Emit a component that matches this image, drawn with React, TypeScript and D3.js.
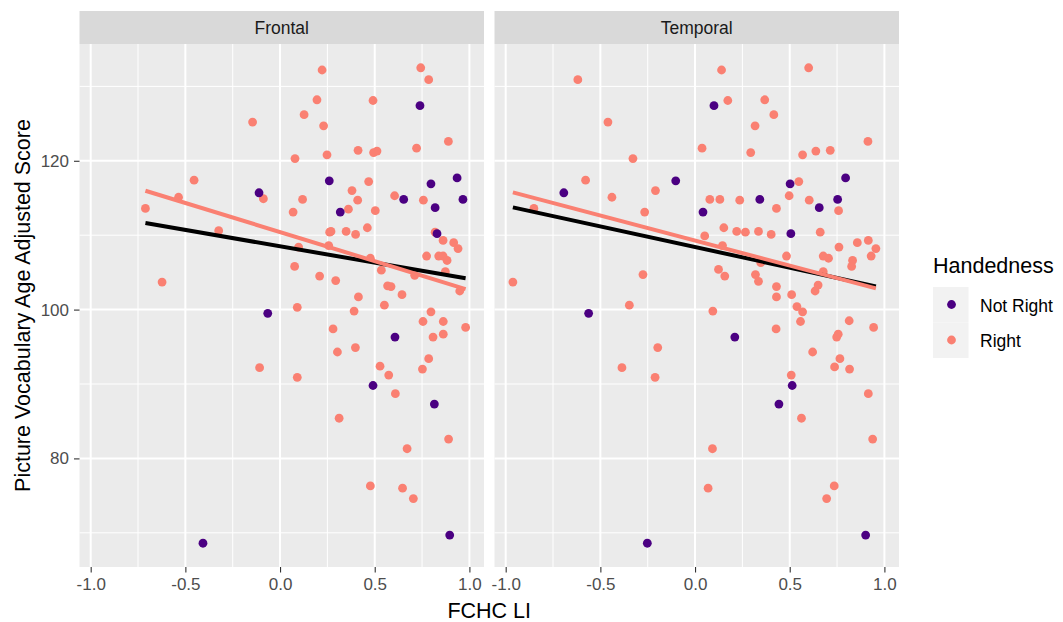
import React, { useEffect, useRef } from "react";
import * as d3 from "d3";

// facets and groups
const facets = ["Frontal", "Temporal"];
const groups = ["Not Right", "Right"];
const groupColors = ["#4B0082", "#FA8072"];

// [FCHC LI, score]
const frontalRight: [number, number][] = [
  [0.222, 132.2], [0.743, 132.5], [0.785, 130.9], [0.195, 128.2], [0.491, 128.1],
  [0.127, 126.2], [-0.145, 125.2], [0.23, 124.7], [0.889, 122.6], [0.721, 121.7],
  [0.412, 121.4], [0.494, 121.1], [0.512, 121.3], [0.248, 120.8], [0.079, 120.3],
  [-0.454, 117.4], [0.468, 117.2], [0.38, 116.0], [-0.536, 115.1], [-0.088, 114.9],
  [0.119, 114.8], [0.41, 114.7], [0.605, 115.3], [0.757, 114.7], [-0.711, 113.6],
  [0.069, 113.1], [0.361, 113.5], [0.503, 113.3], [-0.324, 110.6], [0.262, 110.4],
  [0.269, 110.5], [0.349, 110.5], [0.399, 110.1], [0.461, 111.0], [0.819, 110.4],
  [0.861, 109.3], [0.917, 109.0], [0.94, 108.2], [0.098, 108.4], [0.257, 108.6],
  [0.477, 106.9], [0.774, 107.2], [0.838, 107.2], [0.861, 107.2], [0.882, 106.6],
  [0.077, 105.8], [0.535, 105.3], [0.873, 105.1], [0.209, 104.5], [0.711, 104.6],
  [-0.623, 103.7], [0.294, 103.9], [0.568, 103.2], [0.586, 103.1], [0.949, 102.5],
  [0.644, 102.0], [0.414, 101.7], [0.551, 100.6], [0.091, 100.3], [0.391, 99.8],
  [0.797, 99.7], [0.755, 98.4], [0.862, 98.4], [0.28, 97.4], [0.98, 97.6],
  [0.808, 96.3], [0.862, 96.7], [0.398, 94.9], [0.303, 94.3], [0.785, 93.4],
  [-0.108, 92.2], [0.528, 92.4], [0.752, 92.0], [0.574, 91.2], [0.091, 90.9],
  [0.609, 88.7], [0.312, 85.4], [0.89, 82.6], [0.671, 81.3], [0.477, 76.3],
  [0.647, 76.0], [0.704, 74.6],
];
const frontalNotRight: [number, number][] = [
  [0.739, 127.4], [0.26, 117.3], [0.935, 117.7], [0.797, 116.9], [-0.111, 115.7],
  [0.653, 114.8], [0.966, 114.8], [0.318, 113.1], [0.819, 113.7], [0.829, 110.2],
  [-0.065, 99.5], [0.607, 96.3], [0.491, 89.8], [0.815, 87.3], [0.896, 69.7],
  [-0.407, 68.6],
];
const temporalRight: [number, number][] = [
  [-0.619, 130.9], [0.14, 132.2], [0.6, 132.5], [0.173, 128.1], [0.368, 128.2],
  [0.416, 126.2], [-0.46, 125.2], [0.317, 124.7], [0.913, 122.6], [0.037, 121.7],
  [0.294, 121.1], [0.568, 120.8], [0.638, 121.3], [0.714, 121.4], [-0.328, 120.3],
  [-0.578, 117.4], [0.548, 117.2], [-0.209, 116.0], [-0.439, 115.1], [0.078, 114.8],
  [0.131, 114.8], [0.236, 114.7], [0.497, 115.3], [0.603, 114.7], [-0.851, 113.6],
  [-0.266, 113.1], [0.43, 113.6], [0.758, 113.3], [0.152, 111.0], [0.22, 110.5],
  [0.266, 110.4], [0.335, 110.5], [0.402, 110.1], [0.661, 110.4], [0.051, 109.9],
  [0.145, 108.6], [0.76, 108.4], [0.857, 109.0], [0.915, 109.3], [0.955, 108.2],
  [0.483, 107.2], [0.677, 107.2], [0.705, 106.9], [0.832, 106.6], [0.827, 105.8],
  [0.93, 107.2], [0.347, 106.3], [0.677, 105.1], [0.124, 105.4], [0.157, 104.5],
  [0.319, 104.7], [0.335, 103.8], [-0.275, 104.7], [-0.962, 103.7], [0.43, 103.1],
  [0.43, 101.7], [0.65, 103.3], [0.634, 102.5], [0.51, 102.0], [-0.347, 100.6],
  [0.538, 100.4], [0.568, 99.7], [0.094, 99.8], [0.557, 98.4], [0.814, 98.5],
  [0.428, 97.4], [0.943, 97.6], [0.748, 96.3], [0.756, 96.7], [-0.197, 94.9],
  [0.621, 94.3], [0.765, 93.4], [-0.386, 92.2], [0.737, 92.3], [0.816, 92.0],
  [-0.211, 90.9], [0.508, 91.2], [0.915, 88.7], [0.562, 85.4], [0.938, 82.6],
  [0.092, 81.3], [0.069, 76.0], [0.735, 76.3], [0.695, 74.6],
];
const temporalNotRight: [number, number][] = [
  [0.1, 127.4], [-0.102, 117.3], [0.502, 116.9], [0.795, 117.7], [-0.693, 115.7],
  [0.342, 114.8], [0.753, 114.8], [0.042, 113.1], [0.656, 113.7], [0.506, 110.2],
  [-0.562, 99.5], [0.21, 96.3], [0.513, 89.8], [0.443, 87.3], [0.901, 69.7],
  [-0.252, 68.6],
];

// fitted lines (endpoints): all subjects (black) and Right only
const frontalFitAll: [number, number][] = [[-0.711, 111.63], [0.98, 104.2]];
const frontalFitRight: [number, number][] = [[-0.711, 115.97], [0.98, 102.76]];
const temporalFitAll: [number, number][] = [[-0.962, 113.74], [0.955, 103.12]];
const temporalFitRight: [number, number][] = [[-0.962, 115.75], [0.955, 102.85]];

const xMajor = [-1, -0.5, 0, 0.5, 1];
const xMinor = [-0.75, -0.25, 0.25, 0.75];
const yMajor = [80, 100, 120];
const yMinor = [70, 90, 110, 130];

const panelData = [
  { points: [frontalRight, frontalNotRight], fits: [frontalFitAll, frontalFitRight] },
  { points: [temporalRight, temporalNotRight], fits: [temporalFitAll, temporalFitRight] },
];

const FONT = "'Liberation Sans', Arial, Helvetica, sans-serif";

function expand(ext: [number, number]) {
  const pad = (ext[1] - ext[0]) * 0.05;
  return [ext[0] - pad, ext[1] + pad];
}

export default function App() {
  const ref = useRef<SVGSVGElement>(null);

  useEffect(() => {
    document.body.style.margin = "0";
    const svg = d3.select(ref.current);
    svg.selectAll("*").remove();

    const W = 1063, H = 622;
    const top = 44, bottom = 567;
    const panelLeft = [79.5, 494.5];
    const panelW = 404.5;
    const stripTop = 11;

    const all = [frontalRight, frontalNotRight, temporalRight, temporalNotRight].flat();
    const xDom = expand(d3.extent(all, (d) => d[0]) as [number, number]);
    const yDom = expand(d3.extent(all, (d) => d[1]) as [number, number]);
    const y = d3.scaleLinear().domain(yDom).range([bottom, top]);

    svg.append("rect").attr("width", W).attr("height", H).attr("fill", "white");

    facets.forEach((name, i) => {
      const x0 = panelLeft[i];
      const x = d3.scaleLinear().domain(xDom).range([x0, x0 + panelW]);
      const g = svg.append("g");

      // strip
      g.append("rect")
        .attr("x", x0).attr("y", stripTop)
        .attr("width", panelW).attr("height", top - stripTop)
        .attr("fill", "#D9D9D9");
      g.append("text")
        .attr("x", x0 + panelW / 2).attr("y", 34)
        .attr("text-anchor", "middle")
        .style("font-family", FONT).style("font-size", "17.5px")
        .attr("fill", "#1A1A1A")
        .text(name);

      // panel
      g.append("rect")
        .attr("x", x0).attr("y", top)
        .attr("width", panelW).attr("height", bottom - top)
        .attr("fill", "#EBEBEB");

      g.selectAll(".xminor").data(xMinor).join("line")
        .attr("x1", (d) => x(d)).attr("x2", (d) => x(d))
        .attr("y1", top).attr("y2", bottom)
        .attr("stroke", "white").attr("stroke-width", 1);
      g.selectAll(".yminor").data(yMinor).join("line")
        .attr("x1", x0).attr("x2", x0 + panelW)
        .attr("y1", (d) => y(d)).attr("y2", (d) => y(d))
        .attr("stroke", "white").attr("stroke-width", 1);
      g.selectAll(".xmajor").data(xMajor).join("line")
        .attr("x1", (d) => x(d)).attr("x2", (d) => x(d))
        .attr("y1", top).attr("y2", bottom)
        .attr("stroke", "white").attr("stroke-width", 2);
      g.selectAll(".ymajor").data(yMajor).join("line")
        .attr("x1", x0).attr("x2", x0 + panelW)
        .attr("y1", (d) => y(d)).attr("y2", (d) => y(d))
        .attr("stroke", "white").attr("stroke-width", 2);

      // points: Right first, Not Right on top
      const pd = panelData[i];
      [1, 0].forEach((gi) => {
        const pts = pd.points[gi === 1 ? 0 : 1];
        g.append("g").selectAll("circle").data(pts).join("circle")
          .attr("cx", (d) => x(d[0])).attr("cy", (d) => y(d[1]))
          .attr("r", 4.4)
          .attr("fill", groupColors[gi]);
      });

      const line = d3.line<[number, number]>().x((d) => x(d[0])).y((d) => y(d[1]));
      g.append("path").attr("d", line(pd.fits[0]))
        .attr("fill", "none").attr("stroke", "black").attr("stroke-width", 4);
      g.append("path").attr("d", line(pd.fits[1]))
        .attr("fill", "none").attr("stroke", groupColors[1]).attr("stroke-width", 4);

      // x axis
      const xa = g.append("g").attr("transform", `translate(0, ${bottom})`)
        .call(d3.axisBottom(x).tickValues(xMajor).tickSize(5.5).tickPadding(5)
          .tickFormat((d) => (d as number).toFixed(1)));
      xa.select(".domain").remove();
      xa.selectAll("line").attr("stroke", "#333333").attr("stroke-width", 1.1);
      xa.selectAll("text").attr("fill", "#4D4D4D")
        .style("font-family", FONT).style("font-size", "17px");
    });

    // y axis
    const ya = svg.append("g").attr("transform", `translate(${panelLeft[0]}, 0)`)
      .call(d3.axisLeft(y).tickValues(yMajor).tickSize(5.5).tickPadding(5));
    ya.select(".domain").remove();
    ya.selectAll("line").attr("stroke", "#333333").attr("stroke-width", 1.1);
    ya.selectAll("text").attr("fill", "#4D4D4D")
      .style("font-family", FONT).style("font-size", "17px");

    // axis titles
    svg.append("text")
      .attr("x", (panelLeft[0] + panelLeft[1] + panelW) / 2).attr("y", 618)
      .attr("text-anchor", "middle")
      .style("font-family", FONT).style("font-size", "21.5px")
      .text("FCHC LI");
    svg.append("text")
      .attr("transform", `translate(30, ${(top + bottom) / 2}) rotate(-90)`)
      .attr("text-anchor", "middle")
      .style("font-family", FONT).style("font-size", "21.5px")
      .text("Picture Vocabulary Age Adjusted Score");

    // legend
    const lg = svg.append("g").attr("transform", "translate(933, 0)");
    lg.append("text").attr("x", 0).attr("y", 273)
      .style("font-family", FONT).style("font-size", "21.5px")
      .text("Handedness");
    groups.forEach((name, gi) => {
      const ky = 287 + gi * 35.5;
      lg.append("rect").attr("x", 0).attr("y", ky)
        .attr("width", 35.5).attr("height", 35.5).attr("fill", "#F2F2F2");
      lg.append("circle").attr("cx", 18.5).attr("cy", ky + 17.5)
        .attr("r", 4.4).attr("fill", groupColors[gi]);
      lg.append("text").attr("x", 47).attr("y", ky + 24.5)
        .style("font-family", FONT).style("font-size", "17.5px")
        .text(name);
    });
  }, []);

  return <svg ref={ref} width={1063} height={622} style={{ display: "block" }} />;
}
